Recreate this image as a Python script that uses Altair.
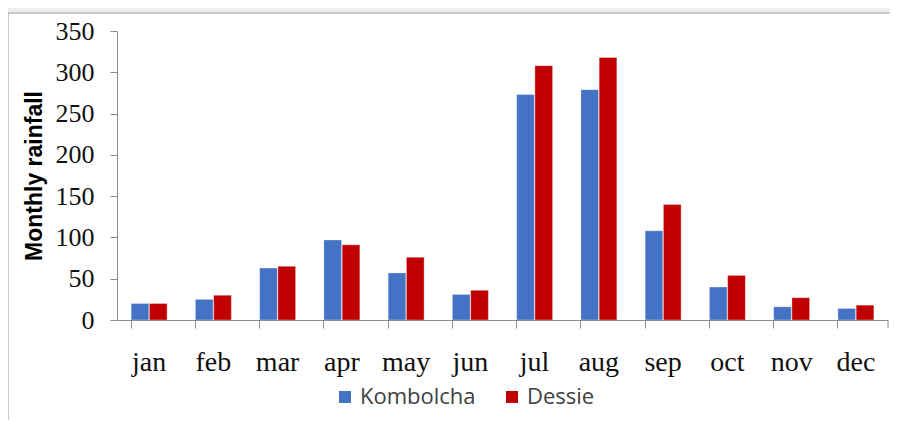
import altair as alt
import pandas as pd

months = ["jan", "feb", "mar", "apr", "may", "jun", "jul", "aug", "sep", "oct", "nov", "dec"]
kombolcha = [20, 25, 63, 97, 57, 31, 273, 279, 108, 40, 16, 14]
dessie = [20, 30, 65, 91, 76, 36, 308, 318, 140, 54, 27, 18]
stations = ["Kombolcha", "Dessie"]
colors = ["#4472C4", "#C00000"]
y_ticks = [0, 50, 100, 150, 200, 250, 300, 350]

rows = []
for i, m in enumerate(months):
    rows.append({"month": m, "station": "Kombolcha", "rain": kombolcha[i]})
    rows.append({"month": m, "station": "Dessie", "rain": dessie[i]})
df = pd.DataFrame(rows)

W, H = 771, 289

frame = alt.Chart(pd.DataFrame({"a": [0]})).mark_rect(
    fill="white", stroke="#9a9a9a", strokeWidth=1
).encode(
    x=alt.value(-109), x2=alt.value(W + 40),
    y=alt.value(-18), y2=alt.value(H + 140)
)

bars = alt.Chart(df).mark_bar(stroke="white", strokeWidth=0.6, strokeOpacity=0.6).encode(
    x=alt.X("month:N", sort=months,
            scale=alt.Scale(paddingInner=0.44, paddingOuter=0.22),
            axis=alt.Axis(title=None, labelAngle=0, bandPosition=0, zindex=1,
                          labelFont="Liberation Serif", labelFontSize=28,
                          labelColor="#111111", labelPadding=20, tickSize=8,
                          domainColor="#8c8c8c", tickColor="#8c8c8c",
                          labelBaseline="top")),
    xOffset=alt.XOffset("station:N", sort=stations,
                        scale=alt.Scale(paddingInner=0.03)),
    y=alt.Y("rain:Q", scale=alt.Scale(domain=[0, 350], nice=False),
            axis=alt.Axis(title="Monthly rainfall", values=y_ticks, grid=False, zindex=1,
                          labelFont="Liberation Serif", labelFontSize=26,
                          labelColor="#111111", labelPadding=16, tickSize=7,
                          domainColor="#8c8c8c", tickColor="#8c8c8c",
                          titleFont="Liberation Sans", titleFontSize=23,
                          titleFontWeight="bold", titleColor="#000000",
                          titlePadding=9)),
    color=alt.Color("station:N", sort=stations,
                    scale=alt.Scale(domain=stations, range=colors),
                    legend=alt.Legend(title=None, orient="none", direction="horizontal",
                                      legendX=217, legendY=355,
                                      symbolType="square", symbolSize=144,
                                      symbolStrokeWidth=0,
                                      labelFont="Open Sans", labelFontSize=22,
                                      labelColor="#404040", labelOffset=4,
                                      columnPadding=25)),
)

end_tick = alt.Chart(pd.DataFrame({"a": [0]})).mark_rule(color="#8c8c8c").encode(
    x=alt.value(W), y=alt.value(H), y2=alt.value(H + 8)
)

chart = alt.layer(frame, bars, end_tick).properties(
    width=W, height=H,
    autosize=alt.AutoSizeParams(type="none"),
    padding={"left": 109, "top": 23, "right": 2, "bottom": 100},
    background="#efefef",
).configure_view(stroke=None)

chart.save("out.html", embed_options={"renderer": "svg", "actions": False})
